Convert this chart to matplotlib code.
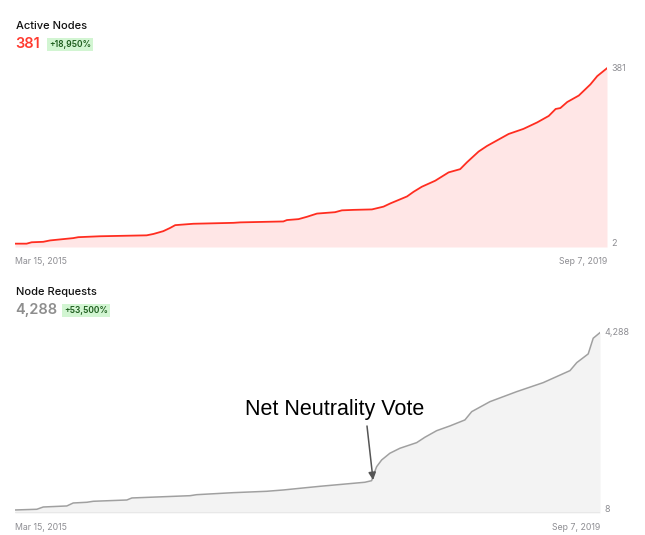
import matplotlib
matplotlib.use('Agg')
import matplotlib.pyplot as plt
import pandas as pd

# Active nodes over time
node_dates = ['2015-03-15', '2015-04-16', '2015-04-30', '2015-06-01', '2015-06-20',
              '2015-08-23', '2015-09-06', '2015-11-05', '2016-03-13', '2016-04-01',
              '2016-04-28', '2016-05-17', '2016-05-31', '2016-07-20', '2016-11-08',
              '2016-11-27', '2017-03-26', '2017-04-05', '2017-05-07', '2017-05-30',
              '2017-06-27', '2017-08-16', '2017-09-04', '2017-10-06', '2017-11-26',
              '2017-12-28', '2018-01-16', '2018-03-03', '2018-03-21', '2018-04-13',
              '2018-05-20', '2018-06-26', '2018-07-28', '2018-08-16', '2018-09-17',
              '2018-10-10', '2018-12-09', '2019-01-19', '2019-02-26', '2019-03-30',
              '2019-04-18', '2019-05-01', '2019-05-20', '2019-06-21', '2019-07-23',
              '2019-08-11', '2019-09-07']
node_values = [2, 2, 5, 6, 9, 14, 16, 18, 20, 23,
               29, 36, 42, 45, 47, 48, 50, 53, 55, 60,
               67, 70, 74, 75, 76, 82, 89, 104, 114, 125,
               138, 156, 163, 178, 201, 213, 239, 250, 264, 278,
               293, 295, 308, 322, 346, 364, 381]

# Node requests over time
req_dates = ['2015-03-15', '2015-05-15', '2015-06-02', '2015-08-07', '2015-08-25',
             '2015-10-02', '2015-10-20', '2016-01-22', '2016-02-05', '2016-07-17',
             '2016-08-04', '2016-11-15', '2017-02-16', '2017-04-04', '2017-05-21',
             '2017-07-16', '2017-11-18', '2017-12-07', '2017-12-11', '2017-12-21',
             '2018-01-04', '2018-01-27', '2018-02-24', '2018-04-12', '2018-05-05',
             '2018-06-07', '2018-07-14', '2018-08-25', '2018-09-13', '2018-11-03',
             '2019-01-17', '2019-04-01', '2019-06-15', '2019-07-04', '2019-08-05',
             '2019-08-19', '2019-09-07']
req_values = [8, 25, 80, 105, 177, 194, 218, 249, 298, 353,
              377, 426, 459, 491, 532, 580, 677, 715, 829, 1053,
              1215, 1377, 1497, 1633, 1763, 1922, 2036, 2181, 2381, 2622,
              2864, 3081, 3371, 3564, 3774, 4153, 4288]

vote_date = '2017-12-11'
vote_value = 730

node_dates = pd.to_datetime(node_dates)
req_dates = pd.to_datetime(req_dates)

W, H = 645, 535
fig = plt.figure(figsize=(W / 100, H / 100), dpi=100)
ui_font = ['Inter', 'DejaVu Sans']
gray = '#8e8e93'


def px_axes(left, top, right, bottom):
    return fig.add_axes([left / W, 1 - bottom / H, (right - left) / W, (bottom - top) / H])


def draw_panel(ax, dates, values, line_c, fill_c, lw, lo_pad, hi_pad):
    lo, hi = min(values), max(values)
    span = hi - lo
    ax.set_xlim(dates[0], dates[-1])
    ax.set_ylim(lo - span * lo_pad, hi + span * hi_pad)
    y0, y1 = ax.get_ylim()
    ax.fill_between(dates, values, y0, color=fill_c, linewidth=0)
    ax.plot(dates, values, color=line_c, linewidth=lw)
    for s in ax.spines.values():
        s.set_visible(False)
    ax.set_xticks([])
    ax.set_yticks([])
    # min / max labels on the right
    for v in (lo, hi):
        ax.text(1.008, (v - y0) / (y1 - y0), f'{v:,}', transform=ax.transAxes,
                ha='left', va='center', fontsize=6.5, color=gray, family=ui_font)
    ax.text(0, -0.055, dates[0].strftime('%b %-d, %Y'), transform=ax.transAxes,
            ha='left', va='top', fontsize=6.3, color=gray, family=ui_font)
    ax.text(1, -0.055, dates[-1].strftime('%b %-d, %Y'), transform=ax.transAxes,
            ha='right', va='top', fontsize=6.3, color=gray, family=ui_font)


# top panel
ax1 = px_axes(15, 60, 607, 247)
draw_panel(ax1, node_dates, node_values, '#ff2d20', '#ffe6e6', 1.3, 0.019, 0.047)

# bottom panel
ax2 = px_axes(15, 325, 600, 513)
draw_panel(ax2, req_dates, req_values, '#a0a0a0', '#f3f3f3', 1.1, 0.017, 0.043)
ax2.axhline(ax2.get_ylim()[0], color='#e6e6e6', linewidth=1.2)

# headers
badge = dict(boxstyle='square,pad=0.2', facecolor='#d2f5d2', edgecolor='none')
fig.text(16 / W, 1 - 26 / H, 'Active Nodes', ha='left', va='center', fontsize=8,
         color='#111111', family=ui_font, fontweight='medium')
fig.text(15 / W, 1 - 44 / H, f'{node_values[-1]:,}', ha='left', va='center', fontsize=10.5,
         color='#ff3b30', family=ui_font, fontweight='semibold')
fig.text(49 / W, 1 - 44.5 / H, '+18,950%', ha='left', va='center', fontsize=6.1,
         color='#1d5c1d', family=ui_font, fontweight='semibold', bbox=badge)

fig.text(16 / W, 1 - 292 / H, 'Node Requests', ha='left', va='center', fontsize=8,
         color='#111111', family=ui_font, fontweight='medium')
fig.text(15 / W, 1 - 310 / H, f'{req_values[-1]:,}', ha='left', va='center', fontsize=10.5,
         color='#8e8e8e', family=ui_font, fontweight='semibold')
fig.text(64 / W, 1 - 310.5 / H, '+53,500%', ha='left', va='center', fontsize=6.1,
         color='#1d5c1d', family=ui_font, fontweight='semibold', bbox=badge)

# annotation: label and arrow drawn separately
fig.text(335 / W, 1 - 410 / H, 'Net Neutrality Vote', ha='center', va='center',
         fontsize=15.5, color='black', family=['Liberation Sans', 'DejaVu Sans'])
ax2.annotate('', xy=(pd.Timestamp(vote_date), vote_value),
             xytext=(367, H - 426), textcoords='figure pixels',
             arrowprops=dict(arrowstyle='-|>', color='#555555', linewidth=1.1,
                             mutation_scale=11, shrinkA=0, shrinkB=0))

fig.savefig('out.png', dpi=100, facecolor='white')
